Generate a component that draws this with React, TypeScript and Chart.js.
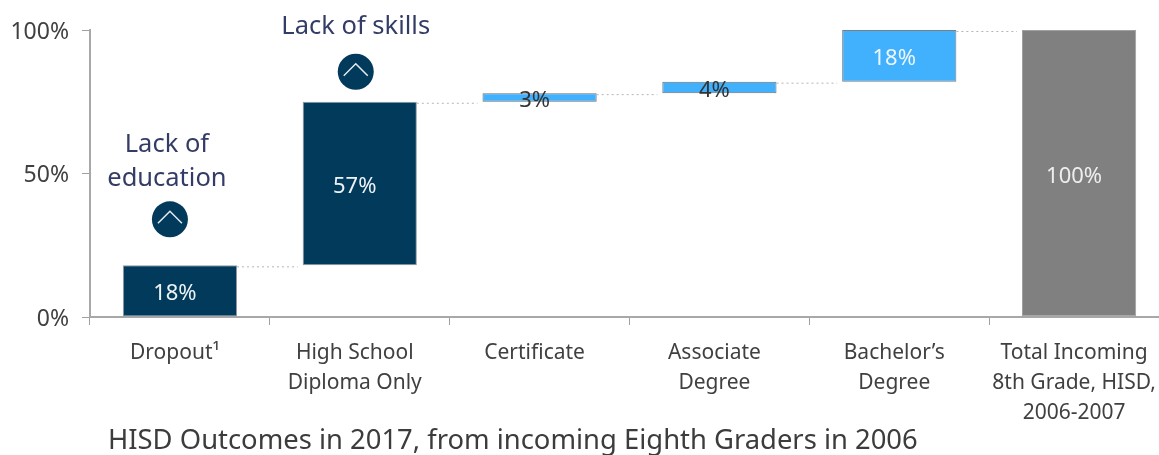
import React, { useEffect, useRef } from "react";
import { Chart, registerables } from "chart.js";

Chart.register(...registerables);

const categories = [
  ["Dropout¹"],
  ["High School", "Diploma Only"],
  ["Certificate"],
  ["Associate", "Degree"],
  ["Bachelor’s", "Degree"],
  ["Total Incoming", "8th Grade, HISD,", "2006-2007"],
];
const segmentStart = [0, 18, 75, 78, 82, 0];
const segmentEnd = [18, 75, 78, 82, 100, 100];
const shareLabels = ["18%", "57%", "3%", "4%", "18%", "100%"];
const barColors = ["#023a5b", "#023a5b", "#41b0fd", "#41b0fd", "#41b0fd", "#808080"];
const barEdges = ["#8f9aa2", "#8f9aa2", "#6f6f6f", "#6f6f6f", "#7d7d7d", "#a0a0a0"];
const labelColors = ["#eef3f6", "#eef3f6", "#333333", "#333333", "#eef6fc", "#eeeeee"];
const yTicks = [0, 50, 100];
const callouts = [
  { bar: 0, lines: ["Lack of", "education"], dx: -10, textDx: -3, circleGap: 46, textGap: 87 },
  { bar: 1, lines: ["Lack of skills"], dx: -4, textDx: 0, circleGap: 30, textGap: 75 },
];
const chartCaption = "HISD Outcomes in 2017, from incoming Eighth Graders in 2006";

const FONT = '"Noto Sans", sans-serif';

// Dotted connectors, share labels, callouts and the caption under the axis.
const waterfallDecor = {
  id: "waterfallDecor",
  afterDatasetsDraw(chart: any) {
    const { ctx, scales } = chart;
    const { x, y } = scales;
    const bars = chart.getDatasetMeta(0).data;
    ctx.save();

    ctx.strokeStyle = "#b5b5b5";
    ctx.lineWidth = 1;
    ctx.setLineDash([2, 3]);
    for (let i = 0; i < bars.length - 1; i++) {
      const py = y.getPixelForValue(segmentEnd[i]) + 1.5;
      ctx.beginPath();
      ctx.moveTo(bars[i].x + bars[i].width / 2, py);
      ctx.lineTo(bars[i + 1].x - bars[i + 1].width / 2 - 5, py);
      ctx.stroke();
    }
    ctx.setLineDash([]);

    ctx.textAlign = "center";
    ctx.textBaseline = "middle";
    ctx.font = `22px ${FONT}`;
    bars.forEach((bar: any, i: number) => {
      const mid = y.getPixelForValue((segmentStart[i] + segmentEnd[i]) / 2);
      ctx.fillStyle = labelColors[i];
      ctx.fillText(shareLabels[i], bar.x - 5, mid + 3);
    });

    callouts.forEach((c) => {
      const cx = x.getPixelForValue(c.bar) + c.dx;
      const top = y.getPixelForValue(segmentEnd[c.bar]);
      const cy = top - c.circleGap;
      ctx.fillStyle = "#023a5b";
      ctx.beginPath();
      ctx.arc(cx, cy, 18, 0, Math.PI * 2);
      ctx.fill();
      ctx.strokeStyle = "#e4ebef";
      ctx.lineWidth = 1.5;
      ctx.beginPath();
      ctx.moveTo(cx - 12, cy + 4);
      ctx.lineTo(cx, cy - 8);
      ctx.lineTo(cx + 12, cy + 4);
      ctx.stroke();

      ctx.fillStyle = "#333c66";
      ctx.font = `25.5px ${FONT}`;
      c.lines.forEach((line, k) => {
        ctx.fillText(line, cx + c.textDx, top - c.textGap - (c.lines.length - 1 - k) * 34);
      });
    });

    ctx.fillStyle = "#3c3c3c";
    ctx.textAlign = "left";
    ctx.font = `27.4px ${FONT}`;
    ctx.fillText(chartCaption, 108, y.bottom + 124);
    ctx.restore();
  },
};

export default function App() {
  const canvasRef = useRef<HTMLCanvasElement>(null);

  useEffect(() => {
    const chart = new Chart(canvasRef.current!, {
      type: "bar",
      data: {
        labels: categories,
        datasets: [
          {
            data: segmentStart.map((s, i) => [s, segmentEnd[i]]),
            backgroundColor: barColors,
            borderColor: barEdges,
            borderWidth: 1,
            borderSkipped: false,
            categoryPercentage: 1,
            barPercentage: 0.635,
          },
        ],
      },
      options: {
        animation: false,
        responsive: false,
        layout: { padding: { top: 30, right: 31 } },
        plugins: { legend: { display: false }, tooltip: { enabled: false } },
        scales: {
          x: {
            afterFit: (s: any) => {
              s.height = 138;
            },
            border: { color: "#a8a8a8", width: 2 },
            grid: { drawOnChartArea: false, color: "#a0a0a0", tickLength: 8, lineWidth: 1 },
            ticks: {
              autoSkip: false,
              maxRotation: 0,
              color: "#404040",
              padding: 13,
              labelOffset: -5,
              font: { family: FONT, size: 21, lineHeight: 1.42 },
            },
          },
          y: {
            min: 0,
            max: 100,
            afterFit: (s: any) => {
              s.width = 90;
            },
            afterBuildTicks: (s: any) => {
              s.ticks = yTicks.map((value) => ({ value }));
            },
            border: { color: "#a8a8a8", width: 2 },
            grid: { drawOnChartArea: false, color: "#a0a0a0", tickLength: 8 },
            ticks: {
              color: "#404040",
              padding: 13,
              labelOffset: 2,
              font: { family: FONT, size: 23 },
              callback: (v: any) => `${v}%`,
            },
          },
        },
      },
      plugins: [waterfallDecor],
    } as any);
    return () => chart.destroy();
  }, []);

  return (
    <div style={{ position: "fixed", left: 0, top: 0, width: 1159, height: 455, overflow: "hidden", background: "#fff" }}>
      <canvas ref={canvasRef} width={1200} height={455} style={{ display: "block" }} />
    </div>
  );
}
